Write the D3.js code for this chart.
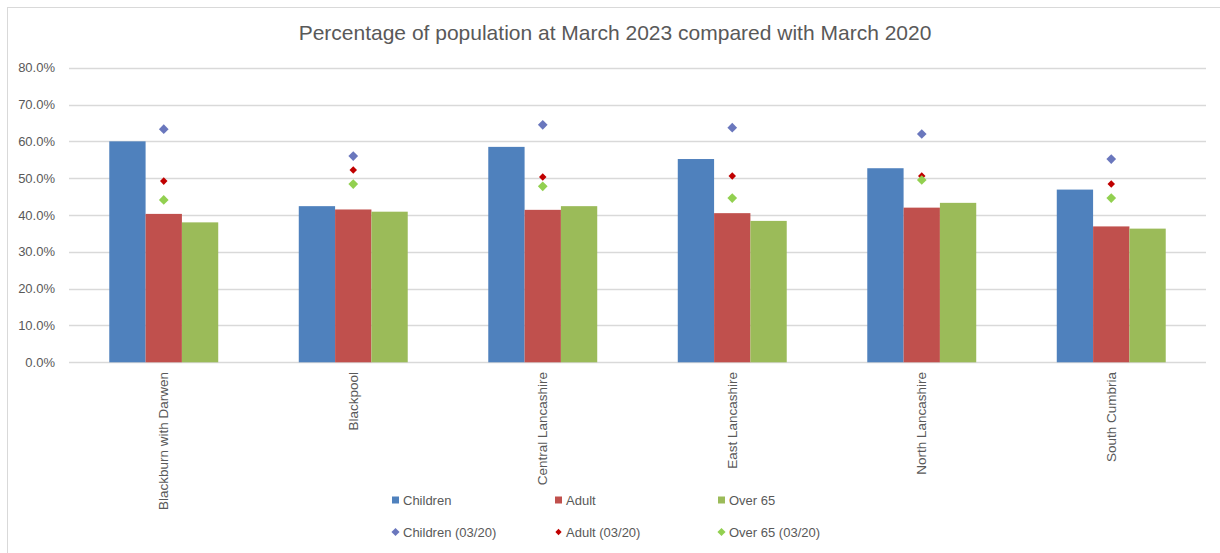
<html>
<head>
<style>
body { margin: 0; background: #fff; }
text { font-family: "Liberation Sans", Arial, sans-serif; fill: #595959; }
</style>
</head>
<body>
<svg width="1220" height="553" id="chart"></svg>

<script src="https://cdn.jsdelivr.net/npm/d3@7"></script>
<script>
var areas = ["Blackburn with Darwen", "Blackpool", "Central Lancashire", "East Lancashire", "North Lancashire", "South Cumbria"];
var children = [60.0, 42.4, 58.5, 55.2, 52.7, 46.9];
var adult = [40.3, 41.5, 41.4, 40.5, 42.0, 36.9];
var over65 = [38.0, 40.9, 42.4, 38.4, 43.3, 36.3];
var children20 = [63.3, 56.0, 64.5, 63.7, 62.0, 55.2];
var adult20 = [49.2, 52.2, 50.3, 50.6, 50.6, 48.4];
var over6520 = [44.1, 48.4, 47.8, 44.6, 49.5, 44.6];
var yTicks = [0, 10, 20, 30, 40, 50, 60, 70, 80];

var barSeries = [
    {name: "Children", values: children, color: "#4f81bd"},
    {name: "Adult", values: adult, color: "#c0504d"},
    {name: "Over 65", values: over65, color: "#9bbb59"}
];
var pointSeries = [
    {name: "Children (03/20)", values: children20, color: "#6a77bd", size: 60},
    {name: "Adult (03/20)", values: adult20, color: "#c00000", size: 36},
    {name: "Over 65 (03/20)", values: over6520, color: "#92d050", size: 60}
];

var svg = d3.select("#chart");
var plotLeft = 69, plotRight = 1206, plotTop = 67.7, plotBottom = 362.3;

// outer border (only top and left visible)
svg.append("rect")
    .attr("x", 7.5).attr("y", 7.5)
    .attr("width", 1300).attr("height", 600)
    .style("fill", "none").style("stroke", "#d9d9d9");

svg.append("text")
    .attr("x", 615).attr("y", 40)
    .attr("text-anchor", "middle")
    .style("font-size", "21px")
    .text("Percentage of population at March 2023 compared with March 2020");

var x = d3.scaleBand().domain(areas).range([plotLeft, plotRight])
    .paddingInner(0.425).paddingOuter(0.2125);
var xs = d3.scaleBand().domain(barSeries.map(function(s){ return s.name; }))
    .range([0, x.bandwidth()]);
var y = d3.scaleLinear().domain([0, 80]).range([plotBottom, plotTop]);

// gridlines
svg.append("g").selectAll("line")
    .data(yTicks)
    .enter().append("line")
    .attr("x1", plotLeft).attr("x2", plotRight)
    .attr("y1", function(d){ return Math.round(y(d)) + 0.5; })
    .attr("y2", function(d){ return Math.round(y(d)) + 0.5; })
    .style("stroke", "#d9d9d9").style("stroke-width", 1.3);

svg.append("g").selectAll("text")
    .data(yTicks)
    .enter().append("text")
    .attr("x", 55).attr("y", function(d){ return y(d) + 4.5; })
    .attr("text-anchor", "end")
    .style("font-size", "13px")
    .text(function(d){ return d.toFixed(1) + "%"; });

// bars
barSeries.forEach(function(s){
    svg.append("g").selectAll("rect")
        .data(s.values)
        .enter().append("rect")
        .attr("x", function(d, i){ return x(areas[i]) + xs(s.name); })
        .attr("y", function(d){ return y(d); })
        .attr("width", xs.bandwidth())
        .attr("height", function(d){ return y(0) - y(d); })
        .style("fill", s.color);
});

// markers
var diamond = function(size){ return d3.symbol().type(d3.symbolDiamond2).size(size)(); };
pointSeries.forEach(function(s){
    svg.append("g").selectAll("path")
        .data(s.values)
        .enter().append("path")
        .attr("d", diamond(s.size))
        .attr("transform", function(d, i){
            return "translate(" + (x(areas[i]) + x.bandwidth() / 2) + "," + y(d) + ")";
        })
        .style("fill", s.color);
});

// category labels
svg.append("g").selectAll("text")
    .data(areas)
    .enter().append("text")
    .attr("transform", function(d){
        return "translate(" + (x(d) + x.bandwidth() / 2 + 4.5) + ",372) rotate(-90)";
    })
    .attr("text-anchor", "end")
    .style("font-size", "13.5px")
    .text(function(d){ return d; });

// legend
var legendItems = barSeries.concat(pointSeries);
var lg = svg.append("g").selectAll("g")
    .data(legendItems)
    .enter().append("g")
    .attr("transform", function(d, i){
        return "translate(" + (392 + (i % 3) * 163) + "," + (i < 3 ? 500 : 532) + ")";
    });
lg.append("path")
    .attr("d", function(d, i){
        return i < 3 ? "M-3.5,-3.5h7v7h-7z" : diamond(d.size * 0.7);
    })
    .attr("transform", "translate(3.5,0)")
    .style("fill", function(d){ return d.color; });
lg.append("text")
    .attr("x", 11).attr("y", 4.5)
    .style("font-size", "13px")
    .text(function(d){ return d.name; });
</script>

</body>
</html>
